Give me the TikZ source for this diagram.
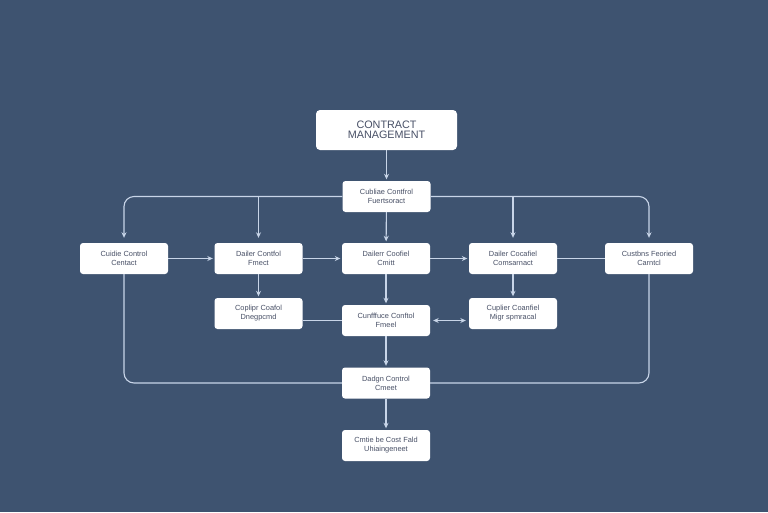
\documentclass[tikz,border=0pt]{standalone}
\usepackage{fontspec}
\setmainfont{Liberation Sans}
\usetikzlibrary{arrows.meta}
\definecolor{bg}{RGB}{62,83,112}
\definecolor{ln}{RGB}{200,213,232}
\definecolor{tx}{RGB}{72,80,102}
\tikzset{
  box/.style={fill=white, rounded corners=3pt, minimum width=88pt, minimum height=31pt,
    inner sep=0pt, align=center, font=\fontsize{7.4}{9}\selectfont, text=tx},
  conn/.style={draw=ln, line width=1.1pt, rounded corners=10pt},
  arr/.style={conn, -{Stealth[length=5.5pt,width=5pt]}, shorten >=1.5pt},
  longarr/.style={arr, shorten >=5pt},
  dbl/.style={conn, {Stealth[length=5.5pt,width=5pt]}-{Stealth[length=5.5pt,width=5pt]}, shorten >=3pt, shorten <=3pt},
}
\begin{document}
\begin{tikzpicture}[x=1pt,y=-1pt]
\fill[bg] (0,0) rectangle (768,512);
\useasboundingbox (0,0) rectangle (768,512);

\node[box, minimum width=141pt, minimum height=40pt, rounded corners=4pt,
  font=\fontsize{10.8}{10.5}\selectfont] (top) at (386.5,130) {CONTRACT\\MANAGEMENT};
\node[box] (hub) at (386.5,196.5) {Cubliae Contfrol\\Fuertsoract};

\node[box] (a) at (124,258.5) {Cuidie Control\\Centact};
\node[box] (b) at (258.5,258.5) {Dailer Contfol\\Fmect};
\node[box] (c) at (386,258.5) {Dailerr Coofiel\\Cmitt};
\node[box] (d) at (513,258.5) {Dailer Cocafiel\\Comsarnact};
\node[box] (e) at (649,258.5) {Custbns Feoried\\Carntcl};

\node[box] (f) at (258.5,313.5) {Coplipr Coafol\\Dnegpcmd};
\node[box] (g) at (386,320.5) {Cunfffuce Conftol\\Fmeel};
\node[box] (h) at (513,313.5) {Cuplier Coanfiel\\Migr spmracal};

\node[box] (i) at (386,383) {Dadgn Control\\Cmeet};
\node[box] (j) at (386,445.5) {Cmtie be Cost Fald\\Uhiaingeneet};

\draw[arr] (top) -- (hub);
\draw[longarr] (hub.west) -| (a.north);
\draw[longarr] (hub.east) -| (e.north);
\draw[longarr] (hub.west -| b.north) -- (b.north);
\draw[longarr] (hub.east -| d.north) -- (d.north);
\draw[arr] (hub) -- (c);

\draw[arr] (a) -- (b);
\draw[arr] (b) -- (c);
\draw[arr] (c) -- (d);
\draw[conn] (d) -- (e);

\draw[arr] (b) -- (f);
\draw[arr] (c) -- (g);
\draw[arr] (d) -- (h);

\draw[conn] (g.west -| f.east) -- (g.west);
\draw[dbl] (g.east) -- (g.east -| h.west);

\draw[arr] (g) -- (i);
\draw[arr] (i) -- (j);

\draw[conn] (a.south) |- (i.west);
\draw[conn] (e.south) |- (i.east);
\end{tikzpicture}
\end{document}
